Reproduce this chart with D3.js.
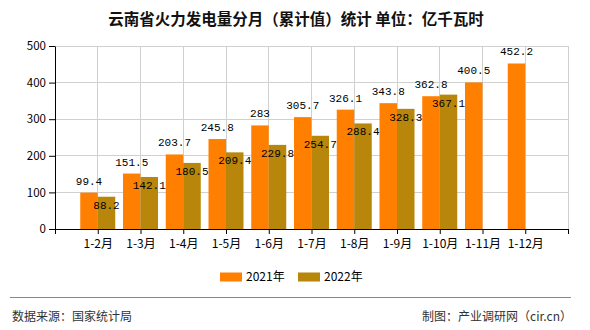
<!DOCTYPE html>
<html><head><meta charset="utf-8">
<script src="https://cdn.jsdelivr.net/npm/d3@7"></script>
<style>body{margin:0;background:#fff}svg{display:block}</style>
</head><body><svg id="c" width="590" height="330"></svg>
<script>
const categories = ["1-2月","1-3月","1-4月","1-5月","1-6月","1-7月","1-8月","1-9月","1-10月","1-11月","1-12月"];
const series2021 = [99.4,151.5,203.7,245.8,283,305.7,326.1,343.8,362.8,400.5,452.2];
const series2022 = [88.2,142.1,180.5,209.4,229.8,254.7,288.4,328.3,367.1,null,null];
const yTicks = [0,100,200,300,400,500];
const seriesNames = ["2021年","2022年"];
const colors = ["#FF8000","#B8860B"];

const svg = d3.select("#c");
const L = 55, R = 568, T = 46, B = 229;
const slots = ["_s"].concat(categories).concat(["_e"]);
const x = d3.scalePoint().domain(slots).range([L, R]);
const y = d3.scaleLinear().domain([0,500]).range([B, T]);
const bw = 17.5;
const mono = "'Liberation Mono','DejaVu Sans Mono',monospace";
const cjk = "'Noto Sans CJK SC','Noto Sans',sans-serif";

svg.append("text").attr("x", 296).attr("y", 25).attr("text-anchor","middle")
  .attr("font-family", cjk).attr("font-size", 15.5).attr("font-weight","bold").attr("fill","#111")
  .text("云南省火力发电量分月（累计值）统计 单位：亿千瓦时");

// horizontal grid
svg.append("g").selectAll("line").data(yTicks.filter(d=>d>0)).join("line")
  .attr("x1", L).attr("x2", R).attr("y1", d=>y(d)).attr("y2", d=>y(d))
  .attr("stroke", "#d0d0d0").attr("stroke-width",1).attr("shape-rendering","crispEdges");
// vertical grid
svg.append("g").selectAll("line").data(slots.slice(1)).join("line")
  .attr("x1", d=>x(d)).attr("x2", d=>x(d)).attr("y1", T).attr("y2", B)
  .attr("stroke", "#d0d0d0").attr("stroke-width",1).attr("shape-rendering","crispEdges");

// bars
const g = svg.append("g");
g.selectAll(".b1").data(categories).join("rect")
  .attr("x", d=>x(d)-bw).attr("width", bw)
  .attr("y", (d,i)=>y(series2021[i])).attr("height",(d,i)=>B-y(series2021[i]))
  .attr("fill", colors[0]);
g.selectAll(".b2").data(categories.filter((d,i)=>series2022[i]!=null)).join("rect")
  .attr("x", d=>x(d)).attr("width", bw)
  .attr("y", (d,i)=>y(series2022[i])).attr("height",(d,i)=>B-y(series2022[i]))
  .attr("fill", colors[1]);

// labels
g.selectAll(".l1").data(categories).join("text")
  .attr("x", d=>x(d)-bw/2).attr("y",(d,i)=>y(series2021[i])-8)
  .attr("text-anchor","middle").attr("font-family",mono).attr("font-size",11).attr("fill","#000")
  .text((d,i)=>series2021[i]);
g.selectAll(".l2").data(categories.filter((d,i)=>series2022[i]!=null)).join("text")
  .attr("x", d=>x(d)+bw/2).attr("y",(d,i)=>y(series2022[i])+12)
  .attr("text-anchor","middle").attr("font-family",mono).attr("font-size",11).attr("fill","#000")
  .text((d,i)=>series2022[i]);

// axes
const ya = svg.append("g").attr("transform",`translate(${L},0)`)
  .call(d3.axisLeft(y).tickValues(yTicks).tickSize(6).tickSizeOuter(0));
ya.select(".domain").attr("stroke","#000");
ya.selectAll("text").attr("font-family",cjk).attr("font-size",11.5).attr("fill","#000");
const xa = svg.append("g").attr("transform",`translate(0,${B})`)
  .call(d3.axisBottom(x).tickSize(5).tickSizeOuter(0).tickFormat(d=>d.startsWith("_")?"":d));
xa.select(".domain").attr("stroke","#000");
xa.selectAll("text").attr("font-family",cjk).attr("font-size",12).attr("fill","#000").attr("dy","0.9em");

// legend
const lg = svg.append("g");
const lx = [220, 298];
seriesNames.forEach((n,i)=>{
  lg.append("rect").attr("x", lx[i]).attr("y", 272.5).attr("width", 22).attr("height", 9).attr("fill", colors[i]);
  lg.append("text").attr("x", lx[i]+26).attr("y", 280.5).attr("font-family",cjk).attr("font-size",12).attr("fill","#000").text(n);
});

// footer
svg.append("line").attr("x1",10).attr("x2",571).attr("y1",297.5).attr("y2",297.5).attr("stroke","#888").attr("stroke-width",1);
svg.append("text").attr("x",12).attr("y",321).attr("font-family",cjk).attr("font-size",12).attr("fill","#333").text("数据来源：国家统计局");
svg.append("text").attr("x",572).attr("y",321).attr("text-anchor","end").attr("font-family",cjk).attr("font-size",12).attr("fill","#333").text("制图：产业调研网（cir.cn）");
</script></body></html>
